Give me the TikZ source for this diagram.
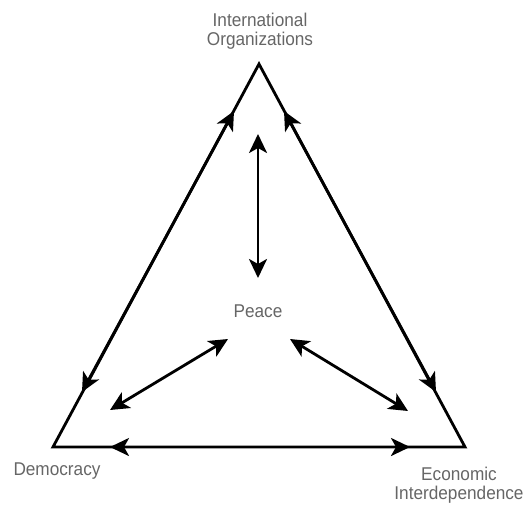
\documentclass[tikz,border=0pt]{standalone}
\usepackage{fontspec}
\setmainfont[FakeStretch=0.93]{Liberation Sans}
\usetikzlibrary{arrows.meta}
\begin{document}
\begin{tikzpicture}[x=1pt,y=-1pt,>={Stealth[length=19pt,width=18pt,inset=5pt]}, line width=2.8pt, line join=miter, font=\fontsize{18.5}{18.5}\selectfont]
    \tikzset{lbl/.style={text=black!60, align=center, inner sep=0pt}}
    \useasboundingbox (0,0) rectangle (526,506);
    % Ecken
    \coordinate (A) at (259,64);
    \coordinate (B) at (53,447);
    \coordinate (C) at (465,447);
    \draw (A)--(B)--(C)--cycle;
    % Pfeilenden
    \coordinate (l1) at (82,392);  \coordinate (l2) at (234,111);
    \coordinate (r1) at (436,392); \coordinate (r2) at (284,111);
    \coordinate (b1) at (110,447); \coordinate (b2) at (410,447);
    \coordinate (p1) at (258,134); \coordinate (p2) at (258,278);
    \coordinate (d1) at (110,410); \coordinate (d2) at (228,339);
    \coordinate (e1) at (408,411); \coordinate (e2) at (290,339);
    
    \node[lbl] (io) at (260,31) {International\\Organizations};
    \node[lbl] (peace) at (258,311) {Peace};
    \node[lbl] (dem) at (57,471) {Democracy};
    \node[lbl] (eco) at (459,485) {Economic\\Interdependence};
    
    \draw[<->] (l1)--(l2);
    \draw[<->] (r1)--(r2);
    \draw[<->] (b1)--(b2);
    \draw[<->] (p1)--(p2);
    \draw[<->] (d1)--(d2);
    \draw[<->] (e1)--(e2);
\end{tikzpicture}
\end{document}
